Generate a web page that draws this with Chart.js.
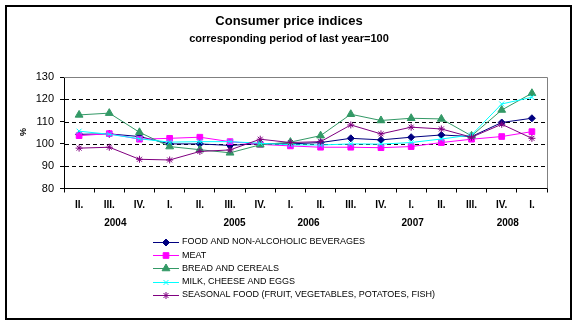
<!DOCTYPE html>
<html>
<head>
<meta charset="utf-8">
<script src="https://cdn.jsdelivr.net/npm/chart.js@4.4.1/dist/chart.umd.min.js"></script>
<style>
html, body { margin: 0; padding: 0; background: #fff; }
#wrap { width: 577px; height: 324px; position: relative; }
</style>
</head>
<body>
<div id="wrap"><canvas id="myChart" width="577" height="324"></canvas></div>
<script>
// quarter labels along the x axis
const quarters = ['II.', 'III.', 'IV.', 'I.', 'II.', 'III.', 'IV.', 'I.', 'II.', 'III.', 'IV.', 'I.', 'II.', 'III.', 'IV.', 'I.'];
// year labels and where they sit (in category index units, as in the original)
const years = ['2004', '2005', '2006', '2007', '2008'];
const yearPos = [1.2, 5.15, 7.6, 11.05, 14.2];

// index values, same period of last year = 100
const food = [104.3, 104.5, 103.3, 100.0, 100.0, 99.3, 100.2, 100.0, 100.6, 102.5, 101.8, 103.0, 104.0, 103.3, 109.6, 111.5];
const meat = [103.7, 104.6, 102.1, 102.5, 103.0, 101.0, 99.8, 99.1, 98.5, 98.5, 98.3, 98.8, 100.6, 102.1, 103.3, 105.5];
const bread = [113.0, 113.8, 105.2, 98.8, 97.4, 96.0, 99.6, 100.8, 103.7, 113.3, 110.5, 111.5, 111.2, 103.6, 115.2, 122.7];
const milk = [105.7, 104.3, 102.3, 100.8, 101.0, 101.0, 100.3, 99.6, 99.5, 100.0, 99.9, 100.6, 102.2, 104.0, 117.9, 120.9];
const seasonal = [98.1, 98.5, 93.1, 92.8, 96.6, 97.3, 102.1, 100.6, 101.0, 108.5, 104.5, 107.5, 106.7, 103.0, 108.8, 102.5];

const FONT = 'Liberation Sans, Arial, sans-serif';

function series(label, data, color, style, radius, i) {
  return {
    label: label,
    data: data,
    borderColor: color,
    backgroundColor: color,
    pointBackgroundColor: color,
    pointBorderColor: color,
    pointStyle: style,
    pointRadius: radius,
    pointHoverRadius: radius,
    pointBorderWidth: 1,
    borderWidth: 1,
    tension: 0,
    order: -i
  };
}

const inData = {
  labels: quarters,
  datasets: [
    series('FOOD AND NON-ALCOHOLIC BEVERAGES', food, '#000080', 'rectRot', 3.5, 0),
    series('MEAT', meat, '#FF00FF', 'rect', 4, 1),
    series('BREAD AND CEREALS', bread, '#339966', 'triangle', 4.5, 2),
    series('MILK, CHEESE AND EGGS', milk, '#00FFFF', 'crossRot', 3.5, 3),
    series('SEASONAL FOOD (FRUIT, VEGETABLES, POTATOES, FISH)', seasonal, '#800080', 'star', 3.5, 4)
  ]
};

// frame, titles, dashed grid, year row, % label and the legend list
const decor = {
  id: 'decor',
  beforeDraw: (chart) => {
    const ctx = chart.ctx;
    ctx.save();
    ctx.fillStyle = '#fff';
    ctx.fillRect(0, 0, chart.width, chart.height);
    ctx.strokeStyle = '#000';
    ctx.lineWidth = 2;
    ctx.strokeRect(6, 6, 565, 313);
    ctx.fillStyle = '#000';
    ctx.textAlign = 'center';
    ctx.textBaseline = 'middle';
    ctx.font = 'bold 13px ' + FONT;
    ctx.fillText('Consumer price indices', 289, 21);
    ctx.font = 'bold 11px ' + FONT;
    ctx.fillText('corresponding period of last year=100', 289, 39);
    ctx.restore();
  },
  beforeDatasetsDraw: (chart) => {
    const {ctx, chartArea: a, scales: {x, y}} = chart;
    ctx.save();
    ctx.lineWidth = 1;
    ctx.strokeStyle = '#000';
    ctx.setLineDash([4, 3]);
    y.ticks.forEach(t => {
      if (t.value > y.min && t.value < y.max) {
        const py = Math.round(y.getPixelForValue(t.value)) + 0.5;
        ctx.beginPath();
        ctx.moveTo(a.left + 1, py);
        ctx.lineTo(a.right, py);
        ctx.stroke();
      }
    });
    ctx.setLineDash([]);
    ctx.strokeStyle = '#808080';
    ctx.beginPath();
    ctx.moveTo(a.left, Math.round(a.top) + 0.5);
    ctx.lineTo(Math.round(a.right) + 0.5, Math.round(a.top) + 0.5);
    ctx.lineTo(Math.round(a.right) + 0.5, a.bottom);
    ctx.stroke();

    // year row
    ctx.fillStyle = '#000';
    ctx.textAlign = 'center';
    ctx.textBaseline = 'middle';
    ctx.font = 'bold 10px ' + FONT;
    years.forEach((yr, i) => ctx.fillText(yr, x.getPixelForValue(yearPos[i]), 223));

    // % axis title
    ctx.save();
    ctx.translate(24, 132);
    ctx.rotate(-Math.PI / 2);
    ctx.font = 'bold 9px ' + FONT;
    ctx.fillText('%', 0, 0);
    ctx.restore();

    // legend, one entry per line
    ctx.font = '9px ' + FONT;
    ctx.textAlign = 'left';
    chart.data.datasets.forEach((ds, i) => {
      const ly = 242 + i * 13.2;
      ctx.strokeStyle = ds.borderColor;
      ctx.fillStyle = ds.borderColor;
      ctx.lineWidth = 1;
      ctx.beginPath();
      ctx.moveTo(153, Math.round(ly) + 0.5);
      ctx.lineTo(179, Math.round(ly) + 0.5);
      ctx.stroke();
      if (Chart.helpers && Chart.helpers.drawPoint) {
        Chart.helpers.drawPoint(ctx, {pointStyle: ds.pointStyle, radius: ds.pointRadius, rotation: 0, borderWidth: 1}, 166, Math.round(ly) + 0.5);
      } else {
        ctx.fillRect(163, ly - 3, 6, 6);
      }
      ctx.fillStyle = '#000';
      ctx.fillText(ds.label, 182, ly);
    });
    ctx.restore();
  }
};

const config = {
  type: 'line',
  data: inData,
  plugins: [decor],
  options: {
    responsive: false,
    animation: false,
    events: [],
    layout: { padding: { left: 0, top: 77, right: 30, bottom: 115.5 } },
    plugins: { legend: { display: false }, title: { display: false }, tooltip: { enabled: false } },
    scales: {
      x: {
        offset: true,
        grid: { offset: true, drawOnChartArea: false, drawTicks: true, tickLength: 4, tickColor: '#000' },
        border: { display: true, color: '#000', width: 1 },
        ticks: { autoSkip: false, maxRotation: 0, color: '#000', padding: 7, font: { family: FONT, size: 10, weight: 'bold' } },
        afterFit: (s) => { s.height = 20; }
      },
      y: {
        min: 80,
        max: 130,
        grid: { drawOnChartArea: false, drawTicks: true, tickLength: 4, tickColor: '#000' },
        border: { display: true, color: '#000', width: 1 },
        ticks: { stepSize: 10, color: '#000', padding: 6, font: { family: FONT, size: 11 } },
        afterFit: (s) => { s.width = 64; }
      }
    }
  }
};

const ctx = document.getElementById('myChart').getContext('2d');
const myChart = new Chart(ctx, config);
</script>
</body>
</html>
